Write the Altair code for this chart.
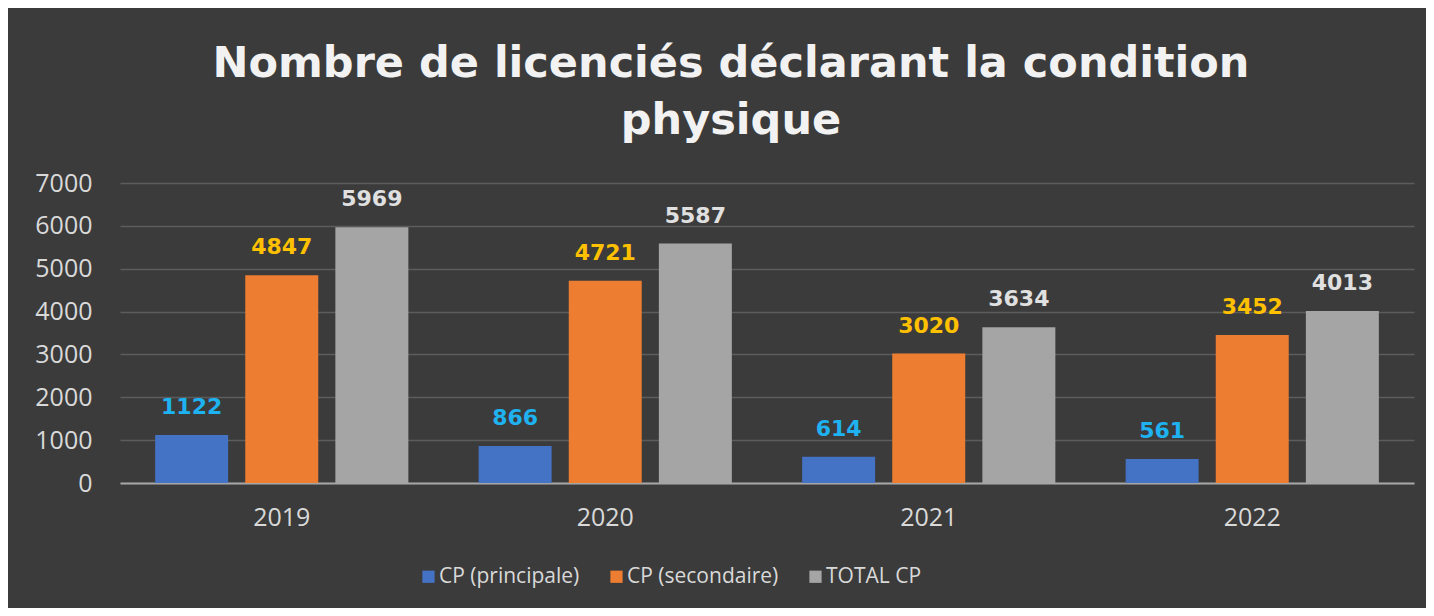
import altair as alt
import pandas as pd

years = ["2019", "2020", "2021", "2022"]
series = ["CP (principale)", "CP (secondaire)", "TOTAL CP"]
principale = [1122, 866, 614, 561]
secondaire = [4847, 4721, 3020, 3452]
total = [5969, 5587, 3634, 4013]

bar_colors = ["#4472c4", "#ed7d31", "#a5a5a5"]
label_colors = ["#1fb2f0", "#ffc000", "#e0e0e0"]

rows = []
for i, y in enumerate(years):
    for s, vals in zip(series, [principale, secondaire, total]):
        rows.append({"year": y, "series": s, "value": vals[i]})
df = pd.DataFrame(rows)

base = alt.Chart(df).encode(
    x=alt.X("year:N", sort=years, title=None,
            scale=alt.Scale(paddingInner=0, paddingOuter=0),
            axis=alt.Axis(labelAngle=0, ticks=False, domainColor="#a6a6a6", domainWidth=2,
                          labelColor="#d9d9d9", labelFont="Open Sans", labelFontSize=25,
                          labelPadding=22, grid=False)),
    xOffset=alt.XOffset("series:N", sort=series,
                        scale=alt.Scale(paddingInner=0.19, paddingOuter=0.39)),
    y=alt.Y("value:Q", title=None,
            scale=alt.Scale(domain=[0, 7000]),
            axis=alt.Axis(values=[0, 1000, 2000, 3000, 4000, 5000, 6000, 7000],
                          format="d",
                          domain=False, ticks=False, gridColor="#5c5c5c", gridWidth=1.5,
                          labelColor="#d9d9d9", labelFont="Open Sans", labelFontSize=25,
                          labelPadding=28)),
)

bars = base.mark_bar().encode(
    color=alt.Color("series:N", sort=series,
                    scale=alt.Scale(domain=series, range=bar_colors),
                    legend=alt.Legend(title=None, orient="none", legendX=298, legendY=383,
                                      direction="horizontal", symbolType="square",
                                      symbolSize=150, symbolStrokeWidth=0,
                                      labelColor="#d9d9d9", labelFont="Open Sans",
                                      labelFontSize=21, columnPadding=26, labelOffset=0))
)

labels = base.mark_text(dy=-28, font="DejaVu Sans", fontWeight="bold", fontSize=22).encode(
    text=alt.Text("value:Q", format="d"),
    color=alt.Color("series:N", sort=series,
                    scale=alt.Scale(domain=series, range=label_colors), legend=None),
)

chart = alt.layer(bars, labels).resolve_scale(color="independent").properties(
    width=1294, height=300,
    autosize=alt.AutoSizeParams(type="none"),
    padding={"left": 112, "top": 175, "right": 12, "bottom": 125},
    background="#3b3b3b",
    title=alt.TitleParams(
        text=["Nombre de licenciés déclarant la condition", "physique"],
        font="DejaVu Sans", fontSize=43, fontWeight="bold", color="#f2f2f2",
        lineHeight=57, anchor="middle", dx=-36, offset=28,
    ),
).configure_view(stroke=None)

chart.save("out.html", embed_options={"renderer": "svg", "actions": False})
